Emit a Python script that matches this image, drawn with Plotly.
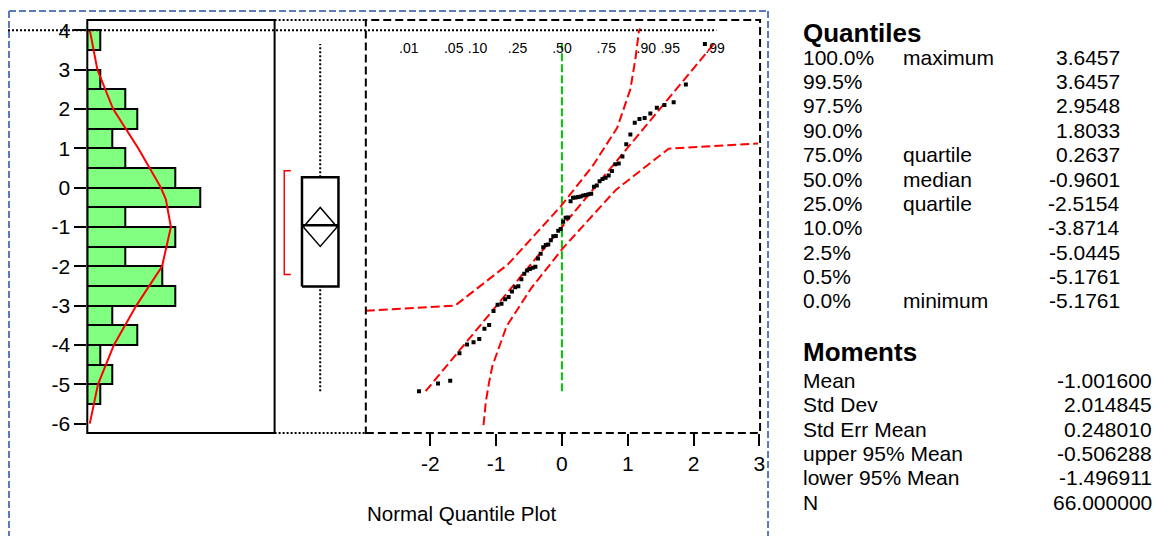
import plotly.graph_objects as go
from statistics import NormalDist

# page body adds an 8px offset; figure is sized/positioned to compensate
OFF = 8
W, H = 1153, 530

# ---------------- data ----------------
values = [-5.1761, -4.981, -4.91, -4.21, -3.99, -3.93, -3.846, -3.59, -3.49, -3.14,
          -2.98, -2.95, -2.84, -2.78, -2.64, -2.535, -2.509, -2.33, -2.19, -2.11,
          -2.07, -2.04, -2.01, -1.80, -1.68, -1.52, -1.46, -1.45, -1.34, -1.24,
          -1.23, -1.10, -1.0502, -0.87, -0.77, -0.76, -0.35, -0.26, -0.25, -0.24,
          -0.23, -0.20, -0.19, -0.17, -0.16, 0.02, 0.05, 0.16, 0.22, 0.25,
          0.305, 0.42, 0.59, 0.61, 0.79, 1.10, 1.35, 1.65, 1.74, 1.77,
          1.881, 2.03, 2.10, 2.17, 2.622, 3.6457]

density_y = [4, 3, 2, 1, 0, -0.3, -1, -2, -3, -4, -5, -6]
density_counts = [0.2, 0.8, 2.05, 4.05, 5.85, 6.25, 6.65, 5.95, 3.9, 2.12, 0.85, 0.2]

quantile_pcts = ["100.0%", "99.5%", "97.5%", "90.0%", "75.0%", "50.0%",
                 "25.0%", "10.0%", "2.5%", "0.5%", "0.0%"]
quantile_names = ["maximum", "", "", "", "quartile", "median",
                  "quartile", "", "", "", "minimum"]
quantile_values = [3.6457, 3.6457, 2.9548, 1.8033, 0.2637, -0.9601,
                   -2.5154, -3.8714, -5.0445, -5.1761, -5.1761]

moment_names = ["Mean", "Std Dev", "Std Err Mean", "upper 95% Mean",
                "lower 95% Mean", "N"]
moment_values = [-1.001600, 2.014845, 0.248010, -0.506288, -1.496911, 66.000000]

shortest_half = [-2.21, 0.43]

y_ticks = [-6, -5, -4, -3, -2, -1, 0, 1, 2, 3, 4]
y_tick_labels = ["-6", "-5", "-4", "-3", "-2", "-1", "0", "1", "2", "3", "4"]
nq_ticks = [-2, -1, 0, 1, 2, 3]
nq_tick_labels = ["-2", "-1", "0", "1", "2", "3"]
prob_ticks = [0.01, 0.05, 0.10, 0.25, 0.50, 0.75, 0.90, 0.95, 0.99]
prob_labels = [".01", ".05", ".10", ".25", ".50", ".75", ".90", ".95", ".99"]

band_lower_z = [-1.192, -1.157, -1.107, -1.056, -0.84, -0.463, 0.015, 0.819, 1.623, 2.98]
band_lower_v = [-6.04, -5.45, -4.95, -4.53, -3.52, -2.55, -1.54, -0.06, 0.99, 1.12]
band_upper_z = [-2.98, -1.623, -0.819, -0.015, 0.463, 0.84, 1.04, 1.12, 1.17, 1.19]
band_upper_v = [-3.13, -3.00, -1.95, -0.47, 0.54, 1.52, 2.50, 3.31, 3.98, 4.04]

# ---------------- helpers ----------------
FONT = "Liberation Sans, Arial, sans-serif"
RED = "#FF0000"
GREEN = "#00C800"


def px(x):
    return max(0.0, (x - OFF) / W)


def py(y):
    return min(1.0, 1 - (y - OFF) / H)


q_max, q3, med, q1, q_min = (quantile_values[0], quantile_values[4],
                             quantile_values[5], quantile_values[6],
                             quantile_values[10])
mean, sd, up95, lo95 = moment_values[0], moment_values[1], moment_values[3], moment_values[4]

n = len(values)
sorted_vals = sorted(values)
nd = NormalDist()
nq = [nd.inv_cdf((i + 1) / (n + 1)) for i in range(n)]

fig = go.Figure()

# histogram (horizontal)
fig.add_trace(go.Histogram(
    y=values, ybins=dict(start=-5.5, end=4.0, size=0.5),
    marker=dict(color="#80FF80", line=dict(color="black", width=2)),
    xaxis="x", yaxis="y", hoverinfo="skip"))

fig.add_trace(go.Scatter(
    x=density_counts, y=density_y, mode="lines",
    line=dict(color=RED, width=2), xaxis="x", yaxis="y"))

# box plot panel (x2 in [0,1])
BC, BH, DH = 0.5, 0.2, 0.185
fig.add_trace(go.Scatter(x=[BC, BC], y=[q3, q_max], mode="lines",
                         line=dict(color="black", width=2, dash="2px,2px"),
                         xaxis="x2", yaxis="y"))
fig.add_trace(go.Scatter(x=[BC, BC], y=[q_min, q1], mode="lines",
                         line=dict(color="black", width=2, dash="2px,2px"),
                         xaxis="x2", yaxis="y"))
fig.add_trace(go.Scatter(x=[BC - BH, BC + BH, BC + BH, BC - BH, BC - BH],
                         y=[q1, q1, q3, q3, q1], mode="lines",
                         line=dict(color="black", width=2.5),
                         xaxis="x2", yaxis="y"))
fig.add_trace(go.Scatter(x=[BC - BH, BC + BH], y=[med, med], mode="lines",
                         line=dict(color="black", width=2.5),
                         xaxis="x2", yaxis="y"))
fig.add_trace(go.Scatter(x=[BC - DH, BC, BC + DH, BC, BC - DH],
                         y=[mean, up95, mean, lo95, mean], mode="lines",
                         line=dict(color="black", width=1.5),
                         xaxis="x2", yaxis="y"))
fig.add_trace(go.Scatter(x=[0.178, 0.106, 0.106, 0.178],
                         y=[shortest_half[1], shortest_half[1],
                            shortest_half[0], shortest_half[0]],
                         mode="lines", line=dict(color=RED, width=1.5),
                         xaxis="x2", yaxis="y"))

# normal quantile plot (x3)
fig.add_trace(go.Scatter(x=[0, 0], y=[q_min, q_max], mode="lines",
                         line=dict(color=GREEN, width=2, dash="8px,3px"),
                         xaxis="x3", yaxis="y"))
fig.add_trace(go.Scatter(x=band_lower_z, y=band_lower_v, mode="lines",
                         line=dict(color=RED, width=2, dash="9px,4px"),
                         xaxis="x3", yaxis="y"))
fig.add_trace(go.Scatter(x=band_upper_z, y=band_upper_v, mode="lines",
                         line=dict(color=RED, width=2, dash="9px,4px"),
                         xaxis="x3", yaxis="y"))
fig.add_trace(go.Scatter(x=[(q_min - mean) / sd, (q_max - mean) / sd],
                         y=[q_min, q_max], mode="lines",
                         line=dict(color=RED, width=2, dash="9px,4px"),
                         xaxis="x3", yaxis="y"))
fig.add_trace(go.Scatter(x=nq, y=sorted_vals, mode="markers",
                         marker=dict(symbol="square", size=4, color="black",
                                     line=dict(width=0)),
                         xaxis="x3", yaxis="y"))
# invisible trace to activate top probability axis
fig.add_trace(go.Scatter(x=[0], y=[0], mode="markers", opacity=0,
                         xaxis="x4", yaxis="y", hoverinfo="skip"))

ydom = [py(434.3), py(19)]
yr = [-6.235, 4.26]
tickfont = dict(family=FONT, size=21, color="black")

fig.update_layout(
    width=W, height=H, margin=dict(l=0, r=0, t=0, b=0),
    paper_bgcolor="white", plot_bgcolor="white", showlegend=False,
    bargap=0,
    xaxis=dict(domain=[px(87.7), px(276)], range=[0, 14.9], visible=False,
               anchor="y"),
    xaxis2=dict(domain=[px(276), px(367.7)], range=[0, 1], visible=False,
                anchor="y"),
    xaxis3=dict(domain=[px(367.7), px(763.3)], range=[-2.98, 3.0],
                anchor="y", tickvals=nq_ticks, ticktext=nq_tick_labels,
                ticks="outside", ticklen=12,
                tickwidth=2, tickcolor="black", showgrid=False, zeroline=False,
                showline=False, tickfont=tickfont),
    xaxis4=dict(overlaying="x3", side="top", anchor="free", position=py(55),
                range=[-2.98, 3.0],
                tickvals=[nd.inv_cdf(p) for p in prob_ticks],
                ticktext=prob_labels, ticks="", showgrid=False,
                zeroline=False, showline=False,
                tickfont=dict(family=FONT, size=14, color="black")),
    yaxis=dict(domain=ydom, range=yr, anchor="x", tickvals=y_ticks,
               ticktext=y_tick_labels,
               ticks="outside", ticklen=12, tickwidth=2, tickcolor="black",
               showgrid=False, zeroline=False, showline=False,
               tickfont=tickfont),
)

shapes = []
# outer blue dashed frame
blue = dict(color="#5B79BD", width=2, dash="7px,3px")
shapes.append(dict(type="line", xref="paper", yref="paper",
                   x0=px(9), x1=px(772), y0=py(10), y1=py(10), line=blue))
shapes.append(dict(type="line", xref="paper", yref="paper",
                   x0=px(9), x1=px(9), y0=py(10), y1=0, line=blue))
shapes.append(dict(type="line", xref="paper", yref="paper",
                   x0=px(772), x1=px(772), y0=py(10), y1=0, line=blue))
# histogram panel frame
shapes.append(dict(type="rect", xref="paper", yref="paper",
                   x0=px(87.7), x1=px(276), y0=py(434.3), y1=py(19),
                   line=dict(color="black", width=2)))
# box panel top/bottom dotted
for yy in (19, 434.3):
    shapes.append(dict(type="line", xref="paper", yref="paper",
                       x0=px(276), x1=px(367.7), y0=py(yy), y1=py(yy),
                       line=dict(color="black", width=2, dash="2px,2px")))
# quantile panel dashed frame
shapes.append(dict(type="rect", xref="paper", yref="paper",
                   x0=px(367.7), x1=px(764), y0=py(434.3), y1=py(19),
                   line=dict(color="black", width=2, dash="8px,4px")))
# dotted reference at top value
shapes.append(dict(type="line", xref="paper", yref="y",
                   x0=px(8), x1=px(720), y0=4, y1=4,
                   line=dict(color="black", width=2, dash="2px,2px")))
fig.update_layout(shapes=shapes)

ann = []


def add_text(text, x, y, anchor="left", size=21):
    ann.append(dict(text=text, x=px(x), y=py(y), xref="paper", yref="paper",
                    xanchor=anchor, yanchor="middle", showarrow=False,
                    font=dict(family=FONT, size=size, color="black")))


add_text("Normal Quantile Plot", 367, 515, size=20.5)
add_text("<b>Quantiles</b>", 805, 32, size=26)
for i, (pc, nm, v) in enumerate(zip(quantile_pcts, quantile_names, quantile_values)):
    yc = 56.5 + 24.5 * i
    add_text(pc, 805, yc)
    if nm:
        add_text(nm, 906, yc)
    add_text(f"{v:.4f}", 1128, yc, anchor="right")
add_text("<b>Moments</b>", 805, 353, size=26)
for i, (nm, v) in enumerate(zip(moment_names, moment_values)):
    yc = 381.5 + 24.5 * i
    add_text(nm, 805, yc)
    add_text(f"{v:.6f}", 1160, yc, anchor="right")
fig.update_layout(annotations=ann)

fig.write_html("out.html")
